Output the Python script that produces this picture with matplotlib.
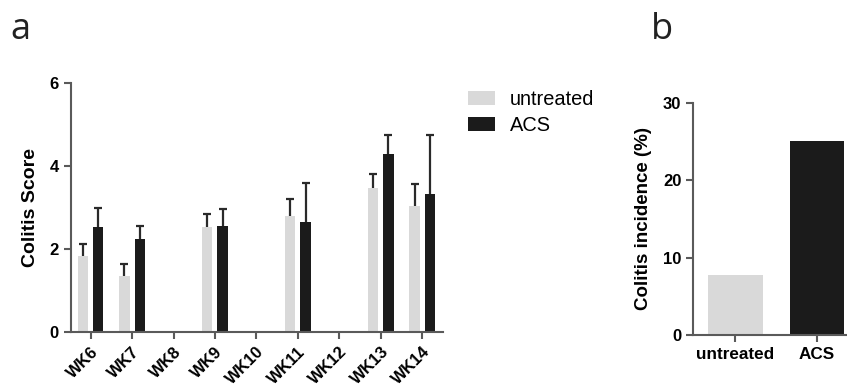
import numpy as np
import matplotlib
matplotlib.use("Agg")
import matplotlib.pyplot as plt

plt.rcParams['font.family'] = ['Liberation Sans', 'DejaVu Sans']

weeks = ["WK6", "WK7", "WK8", "WK9", "WK10", "WK11", "WK12", "WK13", "WK14"]
untreated_mean = [1.84, 1.36, np.nan, 2.55, np.nan, 2.80, np.nan, 3.49, 3.05]
untreated_sem = [0.28, 0.28, np.nan, 0.30, np.nan, 0.42, np.nan, 0.32, 0.52]
acs_mean = [2.53, 2.24, np.nan, 2.57, np.nan, 2.66, np.nan, 4.31, 3.33]
acs_sem = [0.46, 0.32, np.nan, 0.41, np.nan, 0.95, np.nan, 0.45, 1.42]

groups = ["untreated", "ACS"]
incidence = [7.7, 25.0]

light = "#d9d9d9"
dark = "#1b1b1b"
spine_col = "#5a5a5a"

fig = plt.figure(figsize=(8.47, 3.9), dpi=100)

# ---- panel a ----
ax = fig.add_axes([0.0835, 0.148, 0.4395, 0.638])
x = np.arange(len(weeks))
w = 0.25
off = 0.185
ax.bar(x - off, untreated_mean, w, color=light, label="untreated")
ax.bar(x + off, acs_mean, w, color=dark, label="ACS")
for xs, m, e in [(x - off, untreated_mean, untreated_sem), (x + off, acs_mean, acs_sem)]:
    m = np.array(m)
    e = np.array(e)
    ok = ~np.isnan(m)
    _, caps, _ = ax.errorbar(xs[ok], m[ok], yerr=[np.zeros(ok.sum()), e[ok]],
                             fmt='none', ecolor="#2a2a2a", elinewidth=1.6,
                             capsize=3, capthick=1.6)
    caps[0].set_visible(False)

ax.set_xlim(-0.48, 8.5)
ax.set_ylim(0, 6)
ax.set_yticks([0, 2, 4, 6])
ax.set_xticks(x)
ax.set_xticklabels(weeks, rotation=45, ha='right', va='top', rotation_mode='anchor',
                   fontweight='bold', fontsize=12)
ax.set_ylabel("Colitis Score", fontweight='bold', fontsize=14, labelpad=8)
for lab in ax.get_yticklabels():
    lab.set_fontweight('bold')
    lab.set_fontsize(12)
ax.spines['top'].set_visible(False)
ax.spines['right'].set_visible(False)
for s in ['left', 'bottom']:
    ax.spines[s].set_color(spine_col)
    ax.spines[s].set_linewidth(1.5)
ax.tick_params(axis='both', color=spine_col, width=1.5, length=5)

ax.legend(loc='upper left', bbox_to_anchor=(468 / 847, 1 - 90 / 390),
          bbox_transform=fig.transFigure, frameon=False, fontsize=14.4,
          handlelength=1.35, handleheight=0.75, handletextpad=0.75,
          labelspacing=0.35, borderpad=0, borderaxespad=0)

# ---- panel b ----
bx = fig.add_axes([0.8185, 0.141, 0.1815, 0.5957])
bx.bar([0, 1], incidence, 0.665, color=[light, dark])
bx.set_xlim(-0.52, 1.373)
bx.set_ylim(0, 30)
bx.set_yticks([0, 10, 20, 30])
bx.set_xticks([0, 1])
bx.set_xticklabels(groups, fontweight='bold', fontsize=12.3)
bx.set_ylabel("Colitis incidence (%)", fontweight='bold', fontsize=13.5, labelpad=8)
for lab in bx.get_yticklabels():
    lab.set_fontweight('bold')
    lab.set_fontsize(12)
bx.spines['top'].set_visible(False)
bx.spines['right'].set_visible(False)
for s in ['left', 'bottom']:
    bx.spines[s].set_color(spine_col)
    bx.spines[s].set_linewidth(1.5)
bx.tick_params(axis='both', color=spine_col, width=1.5, length=5)

# panel letters
fig.text(10 / 847, 1 - 39 / 390, "a", fontsize=26, family='Open Sans', color="#222222")
fig.text(651 / 847, 1 - 39 / 390, "b", fontsize=26, family='Open Sans', color="#222222")

fig.savefig("out.png", dpi=100)
